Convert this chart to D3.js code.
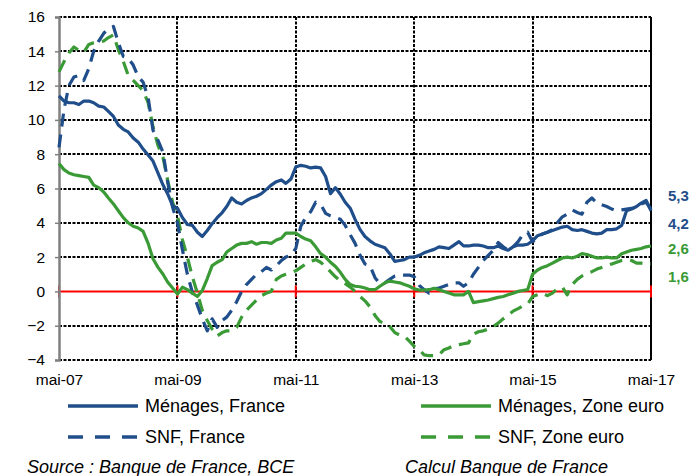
<!DOCTYPE html>
<html>
<head>
<meta charset="utf-8">
<script src="https://cdn.jsdelivr.net/npm/d3@7"></script>
<style>
  body { margin: 0; background: #fff; }
  svg { display: block; }
</style>
</head>
<body>
<svg id="chart" width="695" height="476"></svg>
<script>
'use strict';

// monthly data, mai-07 .. mai-17
const startMonth = new Date(2007, 4, 1);
const tickLabels = ['mai-07', 'mai-09', 'mai-11', 'mai-13', 'mai-15', 'mai-17'];
const yTicks = [-4, -2, 0, 2, 4, 6, 8, 10, 12, 14, 16];

const menagesFrance = [
  11.4, 11.1, 11.0, 11.0, 10.9, 11.1, 11.1, 11.0, 10.8, 10.75,
  10.5, 10.2, 9.7, 9.45, 9.3, 8.95, 8.7, 8.3, 7.95, 7.6,
  6.9, 6.2, 5.7, 5.0, 4.85, 4.3, 3.9, 3.85, 3.45, 3.2,
  3.55, 3.95, 4.3, 4.6, 4.95, 5.45, 5.2, 5.1, 5.3, 5.45,
  5.55, 5.7, 5.95, 6.2, 6.4, 6.5, 6.3, 6.55, 7.25, 7.35,
  7.3, 7.2, 7.25, 7.2, 6.7, 5.7, 6.05, 5.65, 5.2, 4.85,
  4.2, 3.6, 3.2, 2.95, 2.75, 2.65, 2.55, 2.2, 1.75, 1.8,
  1.85, 2.0, 2.0, 2.1, 2.25, 2.35, 2.45, 2.6, 2.55, 2.5,
  2.7, 2.9, 2.65, 2.65, 2.7, 2.7, 2.65, 2.55, 2.55, 2.65,
  2.5, 2.4, 2.6, 2.7, 2.7, 2.75, 2.95, 3.25, 3.35, 3.45,
  3.55, 3.65, 3.75, 3.8, 3.6, 3.55, 3.6, 3.5, 3.4, 3.35,
  3.4, 3.6, 3.6, 3.65, 3.85, 4.7, 4.8, 4.95, 5.15, 5.3,
  4.7
];

const menagesZoneEuro = [
  7.45, 7.1, 6.9, 6.8, 6.75, 6.7, 6.65, 6.2, 6.05, 5.8,
  5.45, 5.1, 4.7, 4.3, 4.0, 3.8, 3.7, 3.5, 2.8, 1.9,
  1.4, 1.0, 0.55, 0.2, -0.15, 0.25, 0.1, -0.1, -0.3, 0.05,
  0.75, 1.5, 1.7, 1.85, 2.3, 2.5, 2.7, 2.8, 2.8, 2.9,
  2.75, 2.85, 2.85, 2.8, 3.0, 3.1, 3.4, 3.4, 3.4, 3.2,
  3.05, 2.95, 2.6, 2.2, 2.0, 1.7, 1.45, 1.1, 0.7, 0.4,
  0.3, 0.27, 0.2, 0.1, 0.1, 0.3, 0.5, 0.6, 0.55, 0.5,
  0.4, 0.3, 0.15, 0.08, 0.08, 0.1, 0.18, 0.1, 0.0, -0.1,
  -0.2, -0.2, -0.2, 0.0, -0.65, -0.6, -0.55, -0.5, -0.42, -0.35,
  -0.3, -0.2, -0.1, 0.0, 0.05, 0.1, 1.0, 1.25, 1.4, 1.5,
  1.65, 1.8, 1.95, 2.0, 1.95, 2.05, 2.2, 2.15, 2.05, 1.95,
  1.95, 2.0, 1.95, 1.95, 2.2, 2.3, 2.4, 2.45, 2.5, 2.6,
  2.65
];

const snfFrance = [
  8.4, 10.6, 12.0, 12.5, 12.6, 12.3, 13.0, 14.0, 14.6, 15.05,
  15.3, 15.45, 14.5, 13.7, 13.6, 13.2, 12.5, 12.2, 11.3, 9.4,
  8.8, 8.1, 6.4, 4.9, 4.0, 2.4, 1.0, -0.05, -0.8, -1.6,
  -2.3, -1.6, -2.1, -1.7, -1.5, -1.1, -0.6, 0.0, 0.4, 0.7,
  1.0, 1.15, 1.4, 1.25, 1.5, 1.8, 2.0, 2.1, 2.5, 3.8,
  4.3, 4.65, 5.2, 5.1, 4.55, 4.4, 4.3, 4.2, 3.85, 3.3,
  2.8, 2.1, 1.6, 1.5, 0.8, 0.45, 0.5, 0.7, 0.9, 0.95,
  0.95, 0.95, 0.85, 0.35, 0.1, -0.1, 0.15, 0.2, 0.3, 0.4,
  0.5, 0.5, 0.3, 0.5, 1.0, 1.4, 1.8, 2.1, 2.4, 2.85,
  2.6, 2.4, 2.6, 2.9, 3.3, 3.45, 2.9, 3.1, 3.35, 3.45,
  3.6, 4.0, 4.35, 4.5, 4.75, 4.6, 4.5, 5.2, 5.45, 5.15,
  5.05, 4.95, 4.8, 4.7, 4.75, 4.8, 4.85, 4.9, 5.1, 5.2,
  4.8
];

const snfZoneEuro = [
  12.8, 13.4, 13.9, 14.25, 14.05, 13.95, 14.4, 14.5, 14.55, 14.6,
  14.8, 14.95, 14.1, 13.4, 12.6, 12.3, 12.0, 11.7, 11.0, 9.6,
  8.5, 7.8, 6.5, 5.2, 4.4, 3.0, 2.0, 0.85, -0.1, -1.1,
  -1.7, -2.2, -2.6, -2.4, -2.3, -2.3, -2.1, -1.5, -1.1, -0.8,
  -0.5, -0.25, -0.1, 0.0, 0.7, 0.9, 1.0, 1.1, 1.2, 1.4,
  1.6, 1.75, 1.85, 1.7, 1.45, 1.15, 0.85, 0.6, 0.45, 0.25,
  0.0, -0.3, -0.55, -0.9, -1.4, -1.75, -1.9, -2.05, -2.4, -2.55,
  -2.6, -2.9, -3.2, -3.4, -3.7, -3.75, -3.75, -3.7, -3.4, -3.3,
  -3.15, -3.1, -3.05, -3.0, -2.5, -2.35, -2.3, -2.2, -2.05, -1.85,
  -1.6, -1.4, -1.15, -1.0, -0.85, -0.75, -0.3, -0.2, -0.1, -0.25,
  -0.1, 0.15, 0.25, -0.2, 0.4, 0.7, 0.9, 1.05, 1.15, 1.3,
  1.4, 1.5, 1.6, 1.7, 1.8, 1.85, 1.8, 1.65, 1.65, 1.6,
  1.6
];

const seriesNames = ['Ménages, France', 'Ménages, Zone euro', 'SNF, France', 'SNF, Zone euro'];
const endLabels = ['5,3', '4,2', '2,6', '1,6'];

const blue = '#1F4E8A';
const green = '#3A9A35';

const svg = d3.select('#chart');
const margin = { left: 59, top: 17, right: 44, bottom: 116 };
const width = 695 - margin.left - margin.right;   // 592
const height = 476 - margin.top - margin.bottom;  // 343

const monthDate = (i) => d3.timeMonth.offset(startMonth, i);

const x = d3.scaleTime()
    .domain([startMonth, monthDate(120)])
    .range([margin.left, margin.left + width]);
const y = d3.scaleLinear()
    .domain([-4, 16])
    .range([margin.top + height, margin.top]);

const tickDates = tickLabels.map((d, i) => monthDate(i * 24));

// grid (dotted black)
const grid = svg.append('g');
grid.selectAll('line.h')
    .data(yTicks.filter((d) => d !== 0))
    .enter().append('line')
    .attr('x1', margin.left)
    .attr('x2', margin.left + width)
    .attr('y1', (d) => Math.round(y(d)))
    .attr('y2', (d) => Math.round(y(d)))
    .attr('stroke', '#000')
    .attr('stroke-width', 2)
    .attr('stroke-dasharray', '3,1.5');
grid.selectAll('line.v')
    .data(tickDates.slice(1, 5))
    .enter().append('line')
    .attr('x1', (d) => Math.round(x(d)))
    .attr('x2', (d) => Math.round(x(d)))
    .attr('y1', margin.top)
    .attr('y2', margin.top + height)
    .attr('stroke', '#000')
    .attr('stroke-width', 2)
    .attr('stroke-dasharray', '3,1.5');
// right border
grid.append('line')
    .attr('x1', Math.round(x(tickDates[5])))
    .attr('x2', Math.round(x(tickDates[5])))
    .attr('y1', margin.top)
    .attr('y2', margin.top + height)
    .attr('stroke', '#000')
    .attr('stroke-width', 2);

// zero line with red ticks
grid.append('line')
    .attr('x1', margin.left)
    .attr('x2', margin.left + width)
    .attr('y1', y(0))
    .attr('y2', y(0))
    .attr('stroke', '#FF0000')
    .attr('stroke-width', 2);
grid.selectAll('line.rt')
    .data(tickDates)
    .enter().append('line')
    .attr('x1', (d) => x(d))
    .attr('x2', (d) => x(d))
    .attr('y1', y(0) - 6)
    .attr('y2', y(0) + 6)
    .attr('stroke', '#FF0000')
    .attr('stroke-width', 2);

// left axis
const yAxis = d3.axisLeft(y)
    .tickValues(yTicks)
    .tickSize(4)
    .tickPadding(10);
const gy = svg.append('g')
    .attr('transform', 'translate(' + margin.left + ',0)')
    .call(yAxis);
gy.select('.domain').attr('stroke', '#808080').attr('stroke-width', 2.5);
gy.selectAll('.tick line').attr('stroke', '#808080').attr('stroke-width', 1.5);
gy.selectAll('.tick text')
    .style('font-family', 'Liberation Sans, Arial, sans-serif')
    .style('font-size', '15.5px')
    .attr('fill', '#000');

// x labels
const xAxis = d3.axisBottom(x)
    .tickValues(tickDates)
    .tickFormat((d, i) => tickLabels[i])
    .tickSize(0)
    .tickPadding(14);
const gx = svg.append('g')
    .attr('transform', 'translate(0,' + (margin.top + height) + ')')
    .call(xAxis);
gx.select('.domain').remove();
gx.selectAll('.tick text')
    .style('font-family', 'Liberation Sans, Arial, sans-serif')
    .style('font-size', '15.5px')
    .attr('fill', '#000');

// series lines
const line = d3.line()
    .x((d, i) => x(monthDate(i)))
    .y((d) => y(d));

const series = [
  { values: snfZoneEuro, color: green, dash: '13,8' },
  { values: snfFrance, color: blue, dash: '13,8' },
  { values: menagesZoneEuro, color: green, dash: null },
  { values: menagesFrance, color: blue, dash: null }
];
svg.append('g').selectAll('path')
    .data(series)
    .enter().append('path')
    .attr('d', (d) => line(d.values))
    .attr('fill', 'none')
    .attr('stroke', (d) => d.color)
    .attr('stroke-width', 3.2)
    .attr('stroke-linejoin', 'round')
    .attr('stroke-dasharray', (d) => d.dash);

// end labels
const endColors = [blue, blue, green, green];
const endY = [195, 223, 248, 276];
svg.append('g').selectAll('text')
    .data(endLabels)
    .enter().append('text')
    .attr('x', 668)
    .attr('y', (d, i) => endY[i])
    .attr('dominant-baseline', 'central')
    .style('font-family', 'Liberation Sans, Arial, sans-serif')
    .style('font-size', '15px')
    .style('font-weight', 'bold')
    .attr('fill', (d, i) => endColors[i])
    .text((d) => d);

// legend
const legend = [
  { name: seriesNames[0], color: blue, dash: null, x: 68, y: 406 },
  { name: seriesNames[1], color: green, dash: null, x: 421, y: 406 },
  { name: seriesNames[2], color: blue, dash: '15,12', x: 68, y: 437 },
  { name: seriesNames[3], color: green, dash: '15,12', x: 421, y: 437 }
];
const lg = svg.append('g').selectAll('g')
    .data(legend)
    .enter().append('g')
    .attr('transform', (d) => 'translate(' + d.x + ',' + d.y + ')');
lg.append('line')
    .attr('x1', 0)
    .attr('x2', 70)
    .attr('stroke', (d) => d.color)
    .attr('stroke-width', 3.5)
    .attr('stroke-dasharray', (d) => d.dash);
lg.append('text')
    .attr('x', 77)
    .attr('dominant-baseline', 'central')
    .style('font-family', 'Liberation Sans, Arial, sans-serif')
    .style('font-size', '18px')
    .attr('fill', '#000')
    .text((d) => d.name);

// source notes
svg.append('text')
    .attr('x', 27)
    .attr('y', 473)
    .style('font-family', 'Liberation Sans, sans-serif')
    .style('font-style', 'italic')
    .style('font-size', '18px')
    .text('Source : Banque de France, BCE');
svg.append('text')
    .attr('x', 405)
    .attr('y', 473)
    .style('font-family', 'Liberation Sans, sans-serif')
    .style('font-style', 'italic')
    .style('font-size', '18px')
    .text('Calcul Banque de France');
</script>
</body>
</html>
